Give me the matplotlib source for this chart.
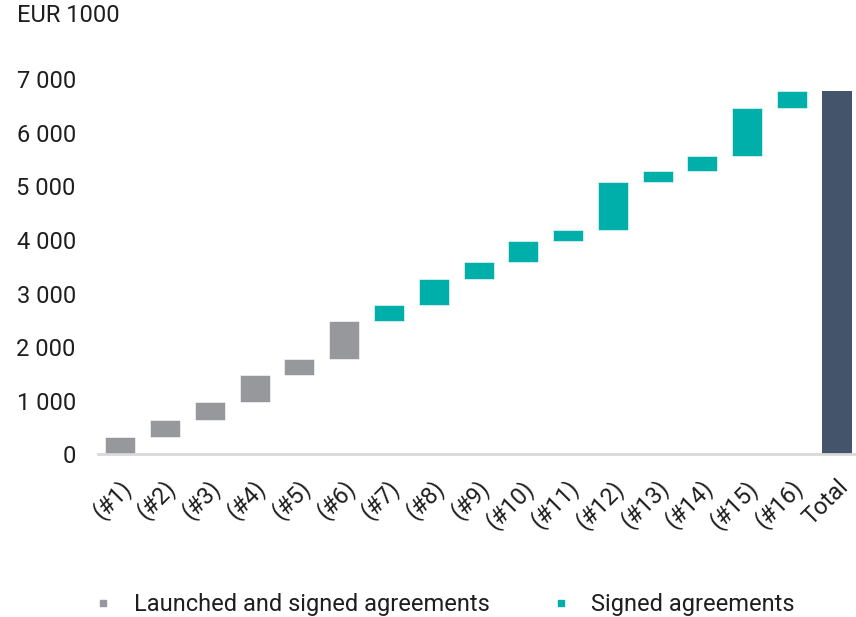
import matplotlib
matplotlib.use("Agg")
import matplotlib.pyplot as plt
import matplotlib.transforms as mtransforms
from matplotlib.lines import Line2D
import numpy as np

plt.rcParams['font.family'] = ['Roboto', 'DejaVu Sans']

categories = ["(#1)", "(#2)", "(#3)", "(#4)", "(#5)", "(#6)", "(#7)", "(#8)",
              "(#9)", "(#10)", "(#11)", "(#12)", "(#13)", "(#14)", "(#15)", "(#16)", "Total"]
increments = [330, 320, 330, 500, 300, 710, 300, 490, 310, 390, 200, 900, 200, 290, 900, 310]
groups = ["launched"] * 6 + ["signed"] * 10
yticks = [0, 1000, 2000, 3000, 4000, 5000, 6000, 7000]
ytick_labels = ["0", "1 000", "2 000", "3 000", "4 000", "5 000", "6 000", "7 000"]

GRAY = "#97989C"
TEAL = "#00AFAA"
DARK = "#44546A"
TXT = "#1e1e1e"

fig = plt.figure(figsize=(8.56, 6.17), dpi=100)
ax = fig.add_axes([0.1145, 0.2634, 0.8855, 0.6081])

inc = np.array(increments)
bottoms = np.concatenate([[0], np.cumsum(inc)[:-1]])
total = inc.sum()
x = np.arange(len(categories))
colors = [GRAY if g == "launched" else TEAL for g in groups]

ax.bar(x[:-1], inc, bottom=bottoms, width=0.67, color=colors,
       edgecolor="white", linewidth=0.4)
ax.bar(x[-1], total, width=0.67, color=DARK)

ax.set_xlim(-0.5, 16.43)
ax.set_ylim(0, 7000)
ax.set_yticks(yticks)
ax.set_yticklabels(ytick_labels, fontsize=17, color=TXT)
ax.set_xticks(x)
ax.set_xticklabels(categories, rotation=45, ha="right", va="top",
                   fontsize=17, color=TXT)
ax.tick_params(axis="y", length=0, pad=16)
ax.tick_params(axis="x", length=0, pad=15)

offset = mtransforms.ScaledTranslation(16 / 100, 0, fig.dpi_scale_trans)
for lbl in ax.get_xticklabels():
    lbl.set_transform(lbl.get_transform() + offset)

for s in ["top", "right", "left"]:
    ax.spines[s].set_visible(False)
ax.spines["bottom"].set_color("#D9D9D9")
ax.spines["bottom"].set_linewidth(2)

fig.text(17 / 856, 1 - 16 / 617, "EUR 1000", fontsize=17, color=TXT,
         ha="left", va="center")

handles = [
    Line2D([], [], marker="s", linestyle="none", color=GRAY, markersize=5),
    Line2D([], [], marker="s", linestyle="none", color=TEAL, markersize=5),
]
fig.legend(handles, ["Launched and signed agreements", "Signed agreements"],
           loc="center", bbox_to_anchor=(0.519, 1 - 605 / 617), ncol=2,
           frameon=False, fontsize=17, handlelength=0.8, handletextpad=0.9,
           columnspacing=2.6, labelcolor=TXT)

fig.savefig("out.png", dpi=100)
